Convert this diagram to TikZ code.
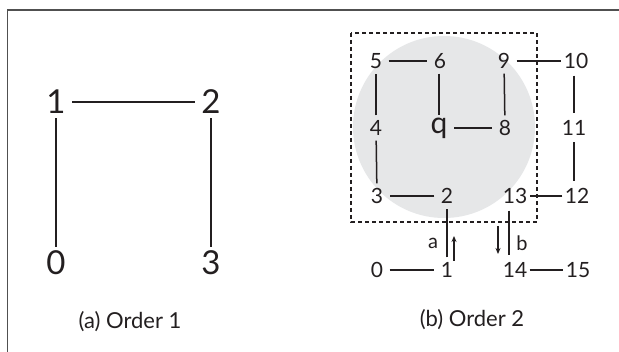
\documentclass[tikz,border=0pt]{standalone}
\usepackage{fontspec}
\setmainfont{Lato}
\usetikzlibrary{arrows.meta,calc}
\definecolor{ink}{HTML}{231F20}
\definecolor{disk}{HTML}{E6E7E8}
\definecolor{framec}{HTML}{505050}
\tikzset{
  big/.style={circle,minimum size=32pt,inner sep=0pt,font=\fontsize{33}{33}\selectfont,text=ink},
  sml/.style={circle,minimum size=25pt,inner sep=0pt,font=\fontsize{21}{21}\selectfont,text=ink},
  edge/.style={draw=ink,line width=1.5pt},
  captxt/.style={font=\fontsize{22}{22}\selectfont,text=ink},
  lab/.style={font=\fontsize{20}{20}\selectfont,text=ink,inner sep=0pt},
  arr/.style={draw=ink,line width=1.2pt,-{Stealth[length=6pt,width=5pt]}}
}
\begin{document}
\begin{tikzpicture}[x=1pt,y=-1pt]
\useasboundingbox (0,0) rectangle (619,352);
\fill[white] (0,0) rectangle (619,352);
% frame (top and left edges only visible)
\draw[framec,line width=1.5pt] (7.5,352) -- (7.5,10) -- (619,10);

% ---------- panel (a)
\node[big] (a1) at (56,102) {1};
\node[big] (a2) at (211,102) {2};
\node[big] (a0) at (56,263) {0};
\node[big] (a3) at (211,263) {3};
\draw[edge] (a0) -- (a1);
\draw[edge] (a1) -- (a2);
\draw[edge] (a2) -- (a3);
\node[captxt] (capa) at (130,322) {(a) Order 1};

% ---------- panel (b)
\fill[disk] (444,127) circle (91);
\draw[ink,line width=1.2pt,dash pattern=on 4pt off 3pt] (351,33) rectangle (537,222);

\node[sml] (b5) at (376,61) {5};
\node[sml] (b6) at (440,61) {6};
\node[sml] (b9) at (504,61) {9};
\node[sml] (b10) at (576,61) {10};
\node[sml] (b4) at (376,128) {4};
\node[sml,font=\fontsize{30}{30}\selectfont] (b7) at (439,128) {q};
\node[sml] (b8) at (505,128) {8};
\node[sml] (b11) at (574,128) {11};
\node[sml] (b3) at (377,196) {3};
\node[sml] (b2) at (447,196) {2};
\node[sml] (b13) at (515,196) {13};
\node[sml] (b12) at (577,196) {12};
\node[sml] (b0) at (377,270) {0};
\node[sml] (b1) at (447,270) {1};
\node[sml] (b14) at (515,270) {14};
\node[sml] (b15) at (578,270) {15};

\draw[edge] (b0) -- (b1);
\draw[edge] (b1) -- (b2);
\draw[edge] (b2) -- (b3);
\draw[edge] (b3) -- (b4);
\draw[edge] (b4) -- (b5);
\draw[edge] (b5) -- (b6);
\draw[edge] (b6.south -| b7) -- (b7);
\draw[edge] ([xshift=2pt]b7.east) -- (b8);
\draw[edge] (b8) -- (b9);
\draw[edge] (b9) -- (b10);
\draw[edge] (b10.south -| b11) -- (b11);
\draw[edge] (b11) -- (b12.north -| b11);
\draw[edge] (b12) -- (b13);
\draw[edge] ([xshift=-6pt]b13.south) -- ([xshift=-6pt]b14.north);
\draw[edge] (b14) -- (b15);

\coordinate (aS) at (454,261);
\coordinate (aE) at (454,236);
\coordinate (bS) at (498,226);
\coordinate (bE) at (498,254);
\draw[arr] (aS) -- (aE);
\draw[arr] (bS) -- (bE);
\node[lab] (la) at (433,243) {a};
\node[lab] (lb) at (522,243) {b};

\node[captxt] (capb) at (472,320) {(b) Order 2};
\end{tikzpicture}
\end{document}
